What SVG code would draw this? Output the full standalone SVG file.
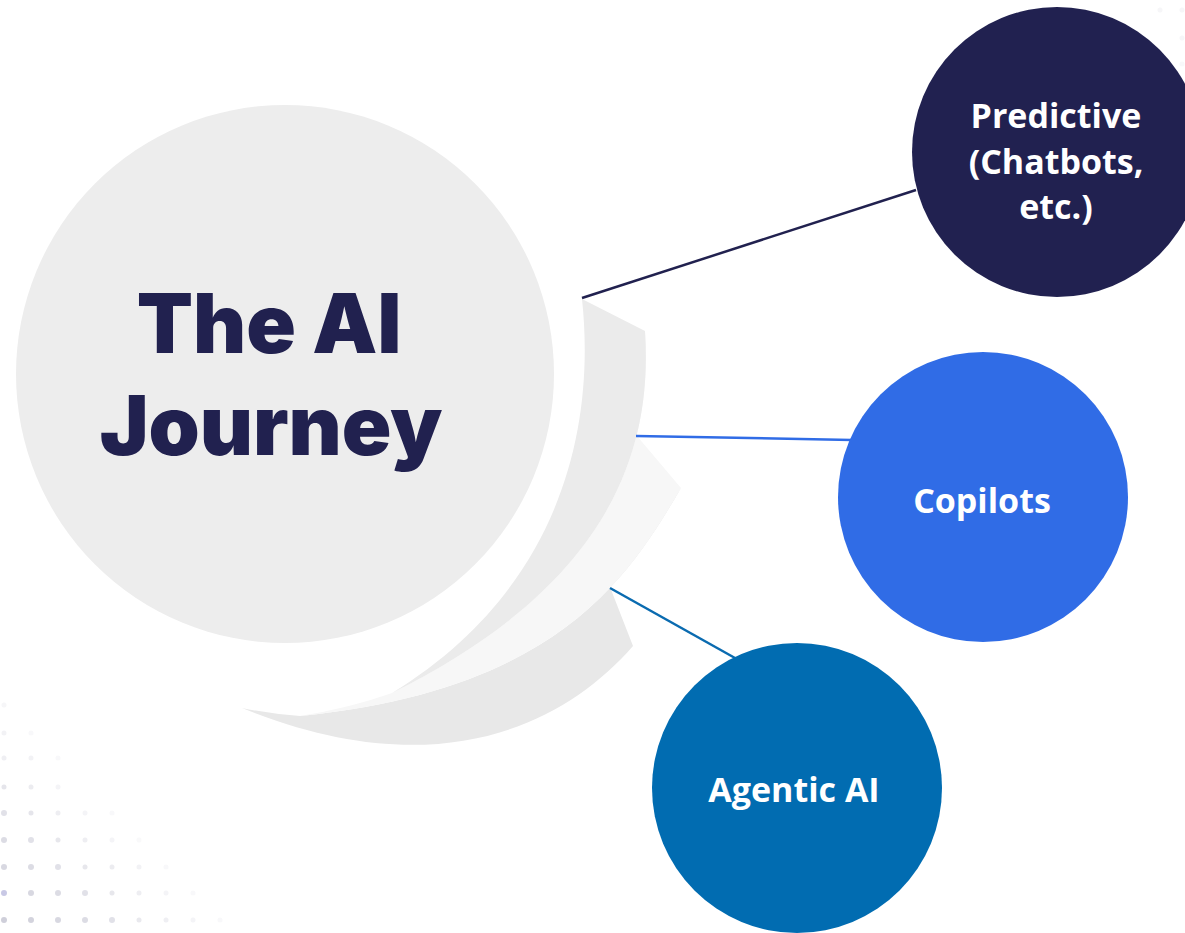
<svg xmlns="http://www.w3.org/2000/svg" width="1185" height="933" viewBox="0 0 1185 933">
<style>
.title{font-family:Inter,"Liberation Sans",sans-serif;font-weight:900;font-size:82px;fill:#21214F;text-anchor:middle}
.lbl{font-family:"Open Sans","Liberation Sans",sans-serif;font-weight:700;font-size:34px;fill:#FFFFFF;text-anchor:middle}
.dot{fill:#A8A8BC}
.conn{stroke-width:2.5;fill:none}
</style>
<rect width="1185" height="933" fill="#FFFFFF"/>
<g id="dots">
<circle class="dot" cx="4" cy="920" r="3" opacity="0.55"/><circle class="dot" cx="31" cy="920" r="3" opacity="0.5"/><circle class="dot" cx="58" cy="920" r="3" opacity="0.45"/><circle class="dot" cx="85" cy="920" r="3" opacity="0.4"/><circle class="dot" cx="112" cy="920" r="3" opacity="0.35"/><circle class="dot" cx="139" cy="920" r="2.5" opacity="0.25"/><circle class="dot" cx="166" cy="920" r="2.5" opacity="0.18"/><circle class="dot" cx="193" cy="920" r="2.5" opacity="0.12"/><circle class="dot" cx="220" cy="920" r="2.5" opacity="0.08"/>
<circle class="dot" cx="4" cy="893" r="3" opacity="0.55" style="fill:#9A9AD0"/><circle class="dot" cx="31" cy="893" r="3" opacity="0.45"/><circle class="dot" cx="58" cy="893" r="3" opacity="0.4"/><circle class="dot" cx="85" cy="893" r="3" opacity="0.35"/><circle class="dot" cx="112" cy="893" r="2.5" opacity="0.28"/><circle class="dot" cx="139" cy="893" r="2.5" opacity="0.2"/><circle class="dot" cx="166" cy="893" r="2.5" opacity="0.12"/><circle class="dot" cx="193" cy="893" r="2.5" opacity="0.08"/>
<circle class="dot" cx="4" cy="867" r="3" opacity="0.45"/><circle class="dot" cx="31" cy="867" r="3" opacity="0.4"/><circle class="dot" cx="58" cy="867" r="3" opacity="0.35"/><circle class="dot" cx="85" cy="867" r="2.5" opacity="0.28"/><circle class="dot" cx="112" cy="867" r="2.5" opacity="0.22"/><circle class="dot" cx="139" cy="867" r="2.5" opacity="0.15"/><circle class="dot" cx="166" cy="867" r="2.5" opacity="0.08"/>
<circle class="dot" cx="4" cy="840" r="3" opacity="0.4"/><circle class="dot" cx="31" cy="840" r="3" opacity="0.35"/><circle class="dot" cx="58" cy="840" r="2.5" opacity="0.28"/><circle class="dot" cx="85" cy="840" r="2.5" opacity="0.2"/><circle class="dot" cx="112" cy="840" r="2.5" opacity="0.12"/><circle class="dot" cx="139" cy="840" r="2.5" opacity="0.07"/>
<circle class="dot" cx="4" cy="813" r="3" opacity="0.35"/><circle class="dot" cx="31" cy="813" r="2.5" opacity="0.3"/><circle class="dot" cx="58" cy="813" r="2.5" opacity="0.2"/><circle class="dot" cx="85" cy="813" r="2.5" opacity="0.12"/><circle class="dot" cx="112" cy="813" r="2.5" opacity="0.08"/>
<circle class="dot" cx="4" cy="787" r="2.5" opacity="0.3"/><circle class="dot" cx="31" cy="787" r="2.5" opacity="0.22"/><circle class="dot" cx="58" cy="787" r="2.5" opacity="0.12"/>
<circle class="dot" cx="4" cy="758" r="2.5" opacity="0.18"/><circle class="dot" cx="31" cy="758" r="2.5" opacity="0.15"/><circle class="dot" cx="58" cy="758" r="2.5" opacity="0.08"/>
<circle class="dot" cx="4" cy="733" r="2.5" opacity="0.15"/><circle class="dot" cx="31" cy="733" r="2.5" opacity="0.08"/>
<circle class="dot" cx="4" cy="705" r="2.5" opacity="0.1"/>
<circle class="dot" cx="1160" cy="10" r="2.5" opacity="0.1"/><circle class="dot" cx="1182" cy="10" r="2.5" opacity="0.1"/><circle class="dot" cx="1182" cy="38" r="2.5" opacity="0.1"/><circle class="dot" cx="1182" cy="64" r="2.5" opacity="0.08"/>
</g>
<g id="swoosh">
<path d="M610,587 L633,646 C560,730 430,785 242,708 Q270,714 300,716 C560,690 630,575 681,488 Z" fill="#E8E8E8"/>
<path d="M637,436 L681,488 C630,575 560,690 300,716 Q350,708 392,693 C620,580 652,440 645,331 Z" fill="#F7F7F7"/>
<path d="M582,299 L645,331 C652,440 620,580 392,693 C560,590 596,430 582,299 Z" fill="#EBEBEB"/>
</g>
<g id="connectors">
<line class="conn" x1="582" y1="298" x2="916" y2="190" stroke="#21214F"/>
<line class="conn" x1="636" y1="436" x2="852" y2="440" stroke="#306CE6"/>
<line class="conn" x1="610" y1="588" x2="735" y2="658" stroke="#0A6BB0"/>
</g>
<g id="node-main">
<circle cx="285" cy="374" r="269" fill="#EDEDED"/>
<text class="title" x="269" y="353">The AI</text>
<text class="title" x="271" y="455">Journey</text>
</g>
<g id="node-predictive">
<circle cx="1057" cy="152" r="145" fill="#212150"/>
<text class="lbl" x="1056" y="128">Predictive</text>
<text class="lbl" x="1056" y="174">(Chatbots,</text>
<text class="lbl" x="1056" y="219">etc.)</text>
</g>
<g id="node-copilots">
<circle cx="983" cy="497" r="145" fill="#306CE6"/>
<text class="lbl" x="982" y="513">Copilots</text>
</g>
<g id="node-agentic">
<circle cx="797" cy="788" r="145" fill="#016CB1"/>
<text class="lbl" x="794" y="802">Agentic AI</text>
</g>
</svg>
